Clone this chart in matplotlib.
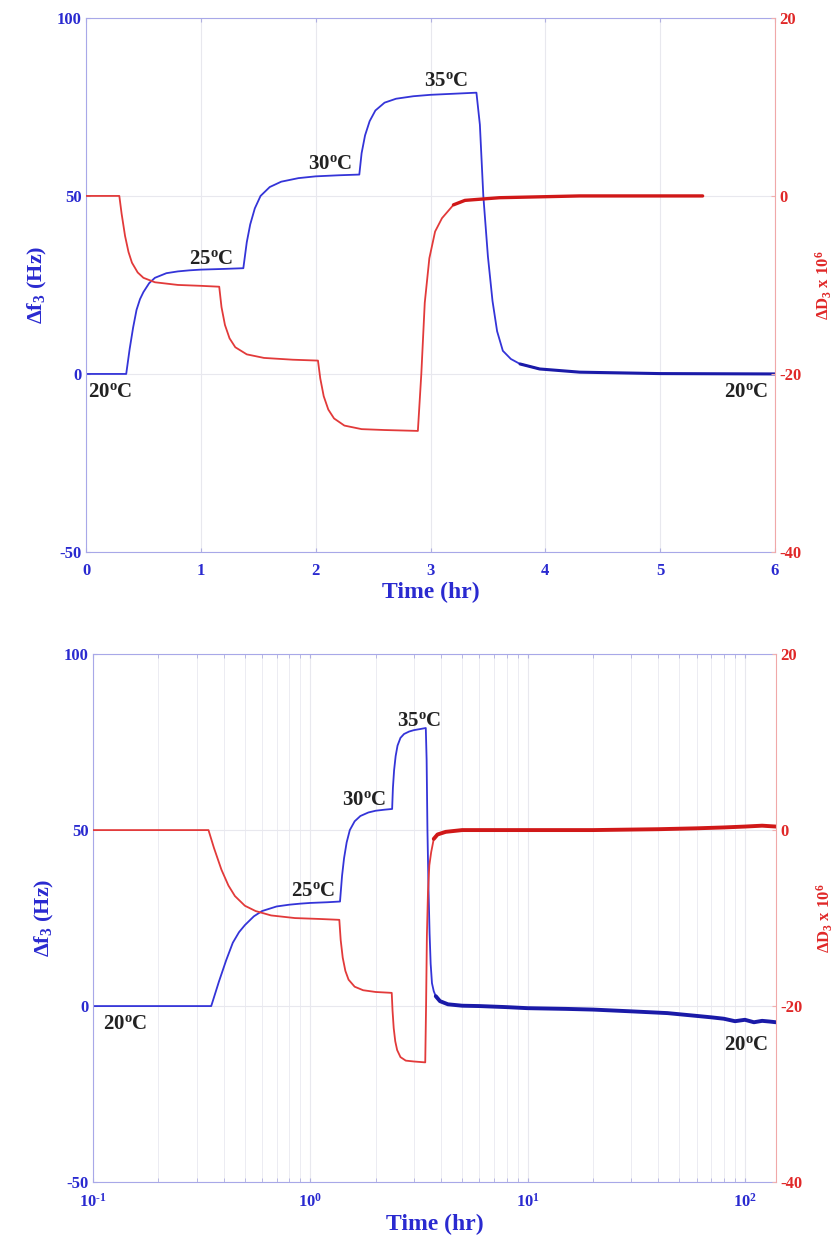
import matplotlib
matplotlib.use("Agg")
import matplotlib.pyplot as plt
from matplotlib.ticker import FixedLocator, FixedFormatter, LogLocator, NullFormatter
import numpy as np

plt.rcParams['font.family'] = ['Liberation Serif', 'DejaVu Serif']
plt.rcParams['font.weight'] = 'bold'
plt.rcParams['axes.unicode_minus'] = False
plt.rcParams['mathtext.fontset'] = 'custom'
plt.rcParams['mathtext.rm'] = 'Liberation Serif:bold'
plt.rcParams['mathtext.it'] = 'Liberation Serif:italic:bold'
plt.rcParams['mathtext.bf'] = 'Liberation Serif:bold'

BLUE = '#3434d8'
BLUE_DARK = '#1a1aa8'
RED = '#e23a3a'
RED_DARK = '#d01818'
BLUE_TXT = '#2a2ad0'
RED_TXT = '#e02828'

# delta f3 (Hz) vs time (hr)
f_t = [0.1, 0.2, 0.35, 0.38, 0.41, 0.44, 0.47, 0.5, 0.55, 0.6, 0.7, 0.8, 0.9, 1.0, 1.2, 1.37,
       1.40, 1.43, 1.47, 1.52, 1.6, 1.7, 1.85, 2.0, 2.2, 2.38,
       2.40, 2.43, 2.47, 2.52, 2.6, 2.7, 2.85, 3.0, 3.2, 3.40,
       3.43, 3.46, 3.50, 3.54, 3.58, 3.63, 3.7, 3.78, 3.95, 4.3, 5.0, 6.0,
       8.0, 10.0, 15.0, 20.0, 30.0, 44.0, 60.0, 70.0, 80.0, 90.0, 100.0, 110.0, 120.0, 130.0, 139.0]
f_v = [0.0, 0.0, 0.0, 7.0, 13.0, 18.0, 21.0, 23.0, 25.5, 27.0, 28.3, 28.8, 29.1, 29.3, 29.5, 29.7,
       37.0, 42.0, 46.5, 50.0, 52.5, 54.0, 55.0, 55.5, 55.8, 56.0,
       62.0, 67.0, 71.0, 74.0, 76.2, 77.3, 78.0, 78.4, 78.7, 79.0,
       70.0, 50.0, 33.0, 20.5, 12.0, 6.5, 4.2, 2.8, 1.4, 0.5, 0.1, 0.0,
       -0.3, -0.6, -0.8, -1.0, -1.5, -2.0, -2.8, -3.2, -3.6, -4.3, -3.9, -4.6, -4.2, -4.4, -4.6]

# delta D3 x 10^6 values, with the two time bases seen in the panels
d_v = [0.0, 0.0, -2.0, -4.5, -6.3, -7.5, -8.6, -9.2, -9.7, -10.0, -10.1, -10.2,
       -12.5, -14.5, -16.0, -17.0, -17.8, -18.2, -18.4, -18.5,
       -20.5, -22.5, -24.0, -25.0, -25.8, -26.2, -26.3, -26.4,
       -20.0, -12.0, -7.0, -4.0, -2.5, -1.0, -0.5, -0.2, 0.0, 0.0]
d_t_top = [0.0, 0.29, 0.31, 0.34, 0.37, 0.40, 0.45, 0.5, 0.6, 0.8, 1.0, 1.16,
           1.18, 1.21, 1.25, 1.3, 1.4, 1.55, 1.8, 2.02,
           2.04, 2.07, 2.11, 2.16, 2.25, 2.4, 2.6, 2.89,
           2.92, 2.95, 2.99, 3.04, 3.1, 3.2, 3.3, 3.6, 4.3, 5.37]
d_t_bot = [0.1, 0.34, 0.36, 0.39, 0.42, 0.45, 0.5, 0.56, 0.66, 0.85, 1.1, 1.36,
           1.38, 1.41, 1.45, 1.5, 1.6, 1.75, 2.0, 2.37,
           2.39, 2.42, 2.46, 2.51, 2.6, 2.75, 3.0, 3.38,
           3.41, 3.44, 3.48, 3.53, 3.6, 3.7, 3.85, 4.2, 5.0, 6.3]
d_tail_t = [10.0, 20.0, 40.0, 60.0, 80.0, 100.0, 120.0, 139.0]
d_tail_v = [0.0, 0.0, 0.1, 0.2, 0.3, 0.4, 0.5, 0.4]

temp_labels = ['20', '25', '30', '35', '20']
top_lbl_x = [0.02, 0.90, 1.93, 2.94, 5.94]
top_lbl_y = [-5.0, 32.3, 59.0, 82.3, -5.0]
bot_lbl_x = [0.111, 0.818, 1.40, 2.51, 128.0]
bot_lbl_y = [-5.0, 32.7, 58.5, 81.0, -11.0]
lbl_ha = ['left', 'left', 'left', 'left', 'right']

f_ticks = [-50, 0, 50, 100]
d_ticks = [-40, -20, 0, 20]
log_ticks = [0.1, 1, 10, 100]
log_tick_labels = [r'10$^{\mathrm{\text{-}1}}$', r'10$^{\mathrm{0}}$', r'10$^{\mathrm{1}}$', r'10$^{\mathrm{2}}$']


def style_axes(ax, ax2):
    for s in ['left', 'top', 'bottom']:
        ax.spines[s].set_color('#a8a8e8')
    ax.spines['right'].set_visible(False)
    for s in ['left', 'top', 'bottom']:
        ax2.spines[s].set_visible(False)
    ax2.spines['right'].set_color('#f0a8a8')
    ax.set_ylim(-50, 100)
    ax.set_yticks(f_ticks)
    ax2.set_ylim(-40, 20)
    ax2.set_yticks(d_ticks)
    ax.tick_params(axis='both', which='both', direction='in', top=True, colors='#b0b0e0',
                   labelcolor=BLUE_TXT, labelsize=12, length=3)
    ax.tick_params(axis='x', pad=8)
    ax.tick_params(axis='y', pad=3)
    ax2.tick_params(axis='y', direction='in', colors='#f0b0b0', labelcolor=RED_TXT,
                    labelsize=12, length=3, pad=3)
    ax.grid(True, which='major', color='#e8e8ee', lw=0.8)
    ax.set_axisbelow(True)
    ax.set_xlabel('Time (hr)', color=BLUE_TXT, fontsize=17, fontweight='bold', labelpad=2)
    ax.set_ylabel(r'$\Delta$f$_{\mathrm{3}}$ (Hz)', color=BLUE_TXT, fontsize=16, fontweight='bold', labelpad=6)
    ax2.set_ylabel(r'$\Delta$D$_{\mathrm{3}}$ x 10$^{\mathrm{6}}$', color=RED_TXT, fontsize=12,
                   fontweight='bold', labelpad=9)


def put_labels(ax, xs, ys):
    for lab, x, y, ha in zip(temp_labels, xs, ys, lbl_ha):
        ax.text(x, y, lab + r'$^{\mathrm{o}}$C', fontsize=15, fontweight='bold', color='#222222',
                ha=ha, va='center')


fig = plt.figure(figsize=(8.4, 12.44), dpi=100)

# top panel: linear time
ax = fig.add_axes([0.1024, 0.5563, 0.8202, 0.4293])
ax2 = ax.twinx()
f_t_arr = np.array(f_t)
f_v_arr = np.array(f_v)
m = f_t_arr <= 6.0
ft_top = np.concatenate([[0.0], f_t_arr[m]])
fv_top = np.concatenate([[0.0], f_v_arr[m]])
ax.plot(ft_top[ft_top <= 3.95], fv_top[ft_top <= 3.95], color=BLUE, lw=1.3)
ax.plot(ft_top[ft_top >= 3.78], fv_top[ft_top >= 3.78], color=BLUE_DARK, lw=2.2, solid_capstyle='round')
d_top_t = np.array(d_t_top)
d_arr = np.array(d_v)
ax2.plot(d_top_t[d_top_t <= 3.3], d_arr[d_top_t <= 3.3], color=RED, lw=1.3)
ax2.plot(d_top_t[d_top_t >= 3.2], d_arr[d_top_t >= 3.2], color=RED_DARK, lw=2.4, solid_capstyle='round')
ax.set_xlim(0, 6)
ax.set_xticks([0, 1, 2, 3, 4, 5, 6])
style_axes(ax, ax2)
put_labels(ax, top_lbl_x, top_lbl_y)

# bottom panel: log time
bx = fig.add_axes([0.1107, 0.0498, 0.8131, 0.4244])
bx2 = bx.twinx()
bx.plot(f_t_arr[f_t_arr <= 3.95], f_v_arr[f_t_arr <= 3.95], color=BLUE, lw=1.3)
bx.plot(f_t_arr[f_t_arr >= 3.78], f_v_arr[f_t_arr >= 3.78], color=BLUE_DARK, lw=2.8, solid_capstyle='round')
d_bt = np.concatenate([d_t_bot, d_tail_t])
d_bv = np.concatenate([d_v, d_tail_v])
bx2.plot(d_bt[d_bt <= 3.85], d_bv[d_bt <= 3.85], color=RED, lw=1.3)
bx2.plot(d_bt[d_bt >= 3.7], d_bv[d_bt >= 3.7], color=RED_DARK, lw=2.8, solid_capstyle='round')
bx.set_xscale('log')
bx.set_xlim(0.1, 139)
bx.xaxis.set_major_locator(FixedLocator(log_ticks))
bx.xaxis.set_major_formatter(FixedFormatter(log_tick_labels))
bx.xaxis.set_minor_locator(LogLocator(base=10, subs=np.arange(2, 10), numticks=20))
bx.xaxis.set_minor_formatter(NullFormatter())
style_axes(bx, bx2)
bx.xaxis.grid(True, which='minor', color='#ececf2', lw=0.7)
put_labels(bx, bot_lbl_x, bot_lbl_y)

fig.savefig('out.png', dpi=100)
